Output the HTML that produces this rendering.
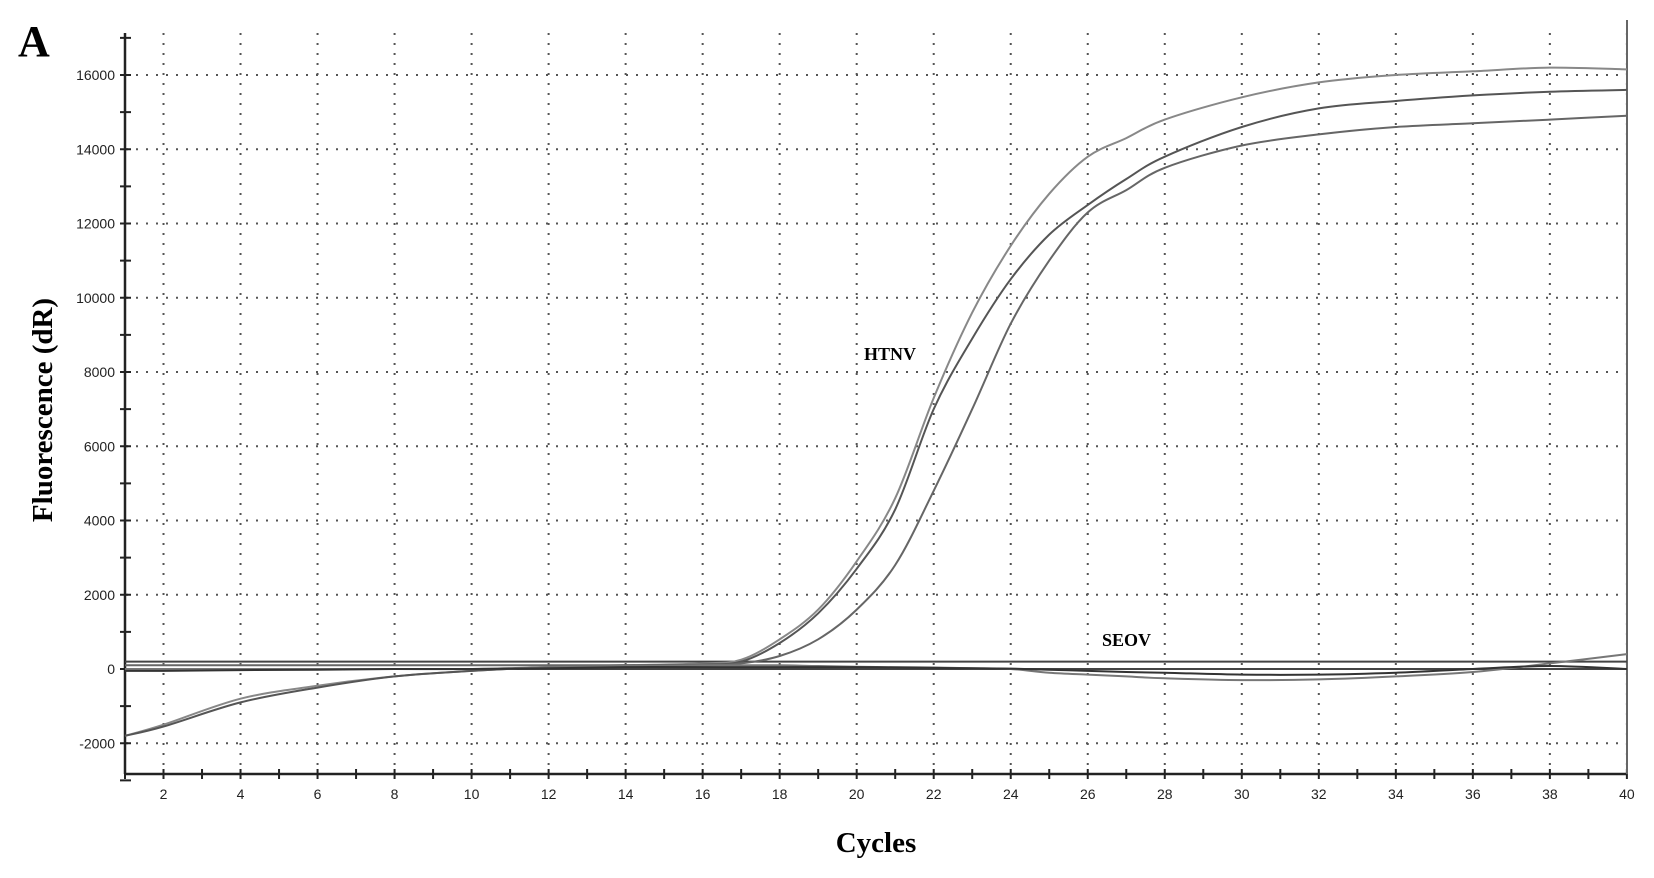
<!DOCTYPE html>
<html><head><meta charset="utf-8"><style>
body{margin:0;background:#fff}
svg{display:block}
</style></head><body>
<svg id="chart" width="1654" height="878" viewBox="0 0 1654 878" xmlns="http://www.w3.org/2000/svg">
<text x="18" y="56" font-family="Liberation Serif, serif" font-weight="bold" font-size="44">A</text>
<text transform="translate(52,410) rotate(-90)" text-anchor="middle" font-family="Liberation Serif, serif" font-weight="bold" font-size="29">Fluorescence (dR)</text>
<text x="876" y="852" text-anchor="middle" font-family="Liberation Serif, serif" font-weight="bold" font-size="29">Cycles</text>
<text x="864" y="360" font-family="Liberation Serif, serif" font-weight="bold" font-size="18">HTNV</text>
<text x="1102" y="646" font-family="Liberation Serif, serif" font-weight="bold" font-size="18">SEOV</text>
<g id="grid"></g><g id="axes"></g><g id="series"></g>
</svg>
<script>
const cycles=[1,2,4,6,8,10,12,14,16,17,18,19,20,21,22,23,24,25,26,27,28,30,32,34,36,38,40];
const htnv1=[-1800,-1500,-800,-450,-200,-50,50,100,150,250,800,1600,2900,4600,7300,9600,11400,12800,13800,14300,14800,15400,15800,16000,16100,16200,16150];
const htnv2=[-1800,-1550,-900,-500,-200,-50,50,100,120,200,700,1500,2700,4300,7000,8900,10500,11700,12500,13200,13800,14600,15100,15300,15450,15550,15600];
const htnv3=[100,100,100,100,100,100,100,100,100,150,350,800,1600,2800,4800,7000,9300,11000,12300,12900,13500,14100,14400,14600,14700,14800,14900];
const seov1=[0,0,0,0,0,0,50,80,100,100,100,80,60,50,40,20,0,-100,-150,-200,-250,-300,-280,-200,-80,150,400];
const seov2=[-50,-50,-30,-20,0,0,20,50,50,50,50,50,50,40,30,20,10,-20,-50,-80,-100,-150,-150,-100,0,80,0];
const baselines=[200,0];
const yTicks=[-2000,0,2000,4000,6000,8000,10000,12000,14000,16000];
const xTicks=[2,4,6,8,10,12,14,16,18,20,22,24,26,28,30,32,34,36,38,40];
const X=c=>125+(c-1)*38.51;
const Y=v=>669-v*0.037125;
const NS="http://www.w3.org/2000/svg";
function mk(t,a,p){const e=document.createElementNS(NS,t);for(const k in a)e.setAttribute(k,a[k]);p.appendChild(e);return e;}
const grid=document.getElementById('grid'),axes=document.getElementById('axes'),ser=document.getElementById('series');
yTicks.forEach(v=>{
 const l=mk('line',{x1:126,x2:1627,y1:Y(v),y2:Y(v),stroke:'#555','stroke-width':2,'stroke-dasharray':'2 8'},grid);
 
 
 const t=mk('text',{x:115,y:Y(v)+5,'text-anchor':'end','font-family':'Liberation Sans, sans-serif','font-size':14,fill:'#222'},axes);
 t.textContent=v;
 
 
});
for(let v=-3000;v<=17000;v+=1000){mk('line',{x1:120,x2:131,y1:Y(v),y2:Y(v),stroke:'#222','stroke-width':2},axes);}
xTicks.forEach(c=>{
 const l=mk('line',{x1:X(c),x2:X(c),y1:33,y2:774,stroke:'#555','stroke-width':2,'stroke-dasharray':'2 8'},grid);
 
 
 const t=mk('text',{x:X(c),y:799,'text-anchor':'middle','font-family':'Liberation Sans, sans-serif','font-size':14,fill:'#222'},axes);
 t.textContent=c;
 
 
});
for(let c=1;c<=40;c++){mk('line',{x1:X(c),x2:X(c),y1:769,y2:779,stroke:'#222','stroke-width':2},axes);}
const ya=mk('line',{x1:125,x2:125,y1:33,y2:774,stroke:'#222','stroke-width':2.5},axes);


const xa=mk('line',{x1:125,x2:1627,y1:774,y2:774,stroke:'#222','stroke-width':2.5},axes);


mk('line',{x1:1627,x2:1627,y1:20,y2:774,stroke:'#666','stroke-width':2},axes);
baselines.forEach(v=>{
 const l=mk('line',{x1:125,x2:1627,y1:Y(v),y2:Y(v),stroke:'#444','stroke-width':2},ser);
 
 
});
function smooth(pts){
 let d='M'+pts[0][0].toFixed(1)+','+pts[0][1].toFixed(1);
 for(let i=0;i<pts.length-1;i++){
  const p0=pts[Math.max(i-1,0)],p1=pts[i],p2=pts[i+1],p3=pts[Math.min(i+2,pts.length-1)];
  const c1=[p1[0]+(p2[0]-p0[0])/6,p1[1]+(p2[1]-p0[1])/6];
  const c2=[p2[0]-(p3[0]-p1[0])/6,p2[1]-(p3[1]-p1[1])/6];
  d+='C'+c1[0].toFixed(1)+','+c1[1].toFixed(1)+' '+c2[0].toFixed(1)+','+c2[1].toFixed(1)+' '+p2[0].toFixed(1)+','+p2[1].toFixed(1);
 }
 return d;
}
[[htnv1,'#888','htnv-curve-1'],[htnv2,'#555','htnv-curve-2'],[htnv3,'#666','htnv-curve-3'],[seov1,'#777','seov-curve-1'],[seov2,'#333','seov-curve-2']].forEach(([d,col,n])=>{
 const p=mk('path',{d:smooth(d.map((v,i)=>[X(cycles[i]),Y(v)])),fill:'none',stroke:col,'stroke-width':2},ser);
 
 
});
</script>
</body></html>
